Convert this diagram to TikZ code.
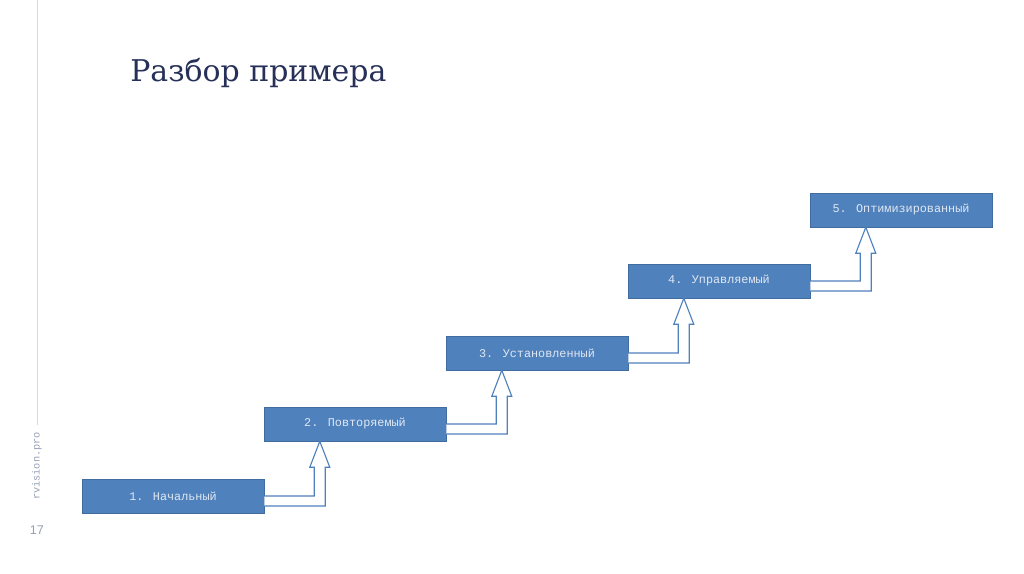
\documentclass[tikz,border=0pt]{standalone}
\usepackage{fontspec}
\usepackage{tikz}
\usepackage{xcolor}
\usetikzlibrary{calc}
\setmainfont{DejaVu Serif}
\newfontfamily\boxfont{Liberation Mono}
\newfontfamily\numfont{Liberation Sans}

\definecolor{stepblue}{RGB}{79,129,189}
\definecolor{stepedge}{RGB}{65,108,160}
\definecolor{steptext}{RGB}{225,232,242}
\definecolor{titlenavy}{RGB}{38,48,88}
\definecolor{sidegray}{RGB}{150,160,180}

\tikzset{
  stepbox/.style={draw=stepedge,fill=stepblue,minimum width=45.5mm,minimum height=8.5mm,
    inner sep=0pt,text=steptext,font=\boxfont\fontsize{8.4}{10}\selectfont},
  stairarrow/.style={draw=stepblue,fill=white,line width=0.8pt,line join=miter}
}

% bent arrow from the right side of one step up to the next step
\newcommand\stair[2]{%
  \draw[stairarrow] let \p1=(#1.east), \p2=(#2.south) in
    (\p1) -- (\x1+12.5mm,\y1) -- (\x1+12.5mm,\y2-6.5mm) -- (\x1+11.375mm,\y2-6.5mm)
    -- (\x1+13.875mm,\y2) -- (\x1+16.375mm,\y2-6.5mm) -- (\x1+15.25mm,\y2-6.5mm)
    -- (\x1+15.25mm,\y1-2.5mm) -- (\x1,\y1-2.5mm);}

\begin{document}
\begin{tikzpicture}[x=0.25mm,y=-0.25mm]
\useasboundingbox[fill=white] (0,0) rectangle (1024,574);

% side rule and page number
\draw[black!15,line width=0.6pt] (37,0) -- (37,425);
\node[rotate=90,text=sidegray,font=\boxfont\fontsize{7.3}{9}\selectfont] (site) at (37,466) {rvision.pro};
\node[text=sidegray,font=\numfont\fontsize{9}{11}\selectfont] (page) at (37,530) {17};

% title
\node[anchor=base west,text=titlenavy,font=\fontsize{21.3}{25}\selectfont,inner sep=0pt] (title) at (130,82) {Разбор примера};

% steps
\node[stepbox] (b1) at (173,496) {1. Начальный};
\node[stepbox] (b2) at (355,424) {2. Повторяемый};
\node[stepbox] (b3) at (537,353) {3. Установленный};
\node[stepbox] (b4) at (719,281) {4. Управляемый};
\node[stepbox] (b5) at (901,210) {5. Оптимизированный};

\stair{b1}{b2}
\stair{b2}{b3}
\stair{b3}{b4}
\stair{b4}{b5}
\end{tikzpicture}
\end{document}
